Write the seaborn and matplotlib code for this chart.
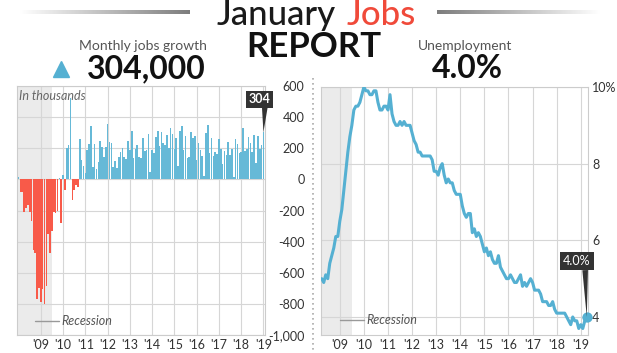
import numpy as np
import pandas as pd
import matplotlib
matplotlib.use("Agg")
import matplotlib.pyplot as plt
import seaborn as sns
from matplotlib.lines import Line2D
from matplotlib.colors import LinearSegmentedColormap

# ---------------- data ----------------
jobs_2008 = [17, -84, -78, -210, -185, -165, -209, -266, -452, -473, -769, -695]
jobs_2009 = [-791, -703, -800, -686, -351, -470, -329, -212, -219, -200, 7, -279]
jobs_2010 = [28, -69, 200, 220, 522, -133, -70, -34, -52, 257, 123, 88]
jobs_2011 = [42, 188, 225, 346, 77, 225, 69, 110, 248, 209, 141, 209]
jobs_2012 = [358, 237, 233, 78, 115, 76, 143, 177, 203, 146, 132, 244]
jobs_2013 = [190, 311, 135, 192, 218, 146, 140, 269, 185, 189, 291, 45]
jobs_2014 = [187, 168, 272, 310, 213, 306, 232, 218, 286, 200, 331, 292]
jobs_2015 = [195, 268, 84, 309, 345, 189, 276, 139, 145, 304, 263, 277]
jobs_2016 = [123, 233, 186, 147, 19, 299, 351, 167, 266, 151, 177, 161]
jobs_2017 = [259, 195, 100, 185, 155, 243, 155, 196, 14, 260, 230, 169]
jobs_2018 = [176, 330, 182, 196, 270, 235, 178, 282, 108, 277, 196, 222]
jobs_2019 = [304]

unemp_2008 = [5.0, 4.9, 5.1, 5.0, 5.4, 5.6, 5.8, 6.1, 6.1, 6.5, 6.8, 7.3]
unemp_2009 = [7.8, 8.3, 8.7, 9.0, 9.4, 9.5, 9.5, 9.6, 9.8, 10.0, 9.9, 9.9]
unemp_2010 = [9.8, 9.8, 9.9, 9.9, 9.6, 9.4, 9.4, 9.5, 9.5, 9.4, 9.8, 9.3]
unemp_2011 = [9.1, 9.0, 9.0, 9.1, 9.0, 9.1, 9.0, 9.0, 9.0, 8.8, 8.6, 8.5]
unemp_2012 = [8.3, 8.3, 8.2, 8.2, 8.2, 8.2, 8.2, 8.1, 7.8, 7.8, 7.7, 7.9]
unemp_2013 = [8.0, 7.7, 7.5, 7.6, 7.5, 7.5, 7.3, 7.2, 7.2, 7.2, 6.9, 6.7]
unemp_2014 = [6.6, 6.7, 6.7, 6.2, 6.3, 6.1, 6.2, 6.1, 5.9, 5.7, 5.8, 5.6]
unemp_2015 = [5.7, 5.5, 5.4, 5.4, 5.6, 5.3, 5.2, 5.1, 5.0, 5.0, 5.1, 5.0]
unemp_2016 = [4.9, 4.9, 5.0, 5.1, 4.8, 4.9, 4.8, 4.9, 5.0, 4.9, 4.7, 4.7]
unemp_2017 = [4.7, 4.6, 4.4, 4.4, 4.4, 4.3, 4.3, 4.4, 4.2, 4.1, 4.1, 4.1]
unemp_2018 = [4.1, 4.1, 4.0, 3.9, 3.8, 4.0, 3.9, 3.9, 3.7, 3.8, 3.7, 3.9]
unemp_2019 = [4.0]

start_year = 2008
tick_years = [2009, 2010, 2011, 2012, 2013, 2014, 2015, 2016, 2017, 2018, 2019]
year_labels = ["'09", "'10", "'11", "'12", "'13", "'14", "'15", "'16", "'17", "'18", "'19"]
jobs_yticks = [600, 400, 200, 0, -200, -400, -600, -800, -1000]
jobs_ylabels = ["600", "400", "200", "0", "-200", "-400", "-600", "-800", "-1,000"]
unemp_yticks = [10, 8, 6, 4]
unemp_ylabels = ["10%", "8", "6", "4"]
recession_end = 2009.5

jobs = (jobs_2008 + jobs_2009 + jobs_2010 + jobs_2011 + jobs_2012 + jobs_2013 +
        jobs_2014 + jobs_2015 + jobs_2016 + jobs_2017 + jobs_2018 + jobs_2019)
unemp = (unemp_2008 + unemp_2009 + unemp_2010 + unemp_2011 + unemp_2012 + unemp_2013 +
         unemp_2014 + unemp_2015 + unemp_2016 + unemp_2017 + unemp_2018 + unemp_2019)

t_jobs = np.round(start_year + np.arange(len(jobs)) / 12.0, 6)
t_unemp = start_year + np.arange(len(unemp)) / 12.0
df_jobs = pd.DataFrame({"t": t_jobs, "jobs": jobs,
                        "sign": np.where(np.array(jobs) >= 0, "pos", "neg")})
df_unemp = pd.DataFrame({"t": t_unemp, "rate": unemp})

# ---------------- style ----------------
sns.set_theme(style="white")
plt.rcParams["font.family"] = ["Lato", "DejaVu Sans"]

BLUE = "#55b0d2"
BAR_BLUE = "#66b9d7"
RED = "#f85a49"
GRID = "#d6d6d6"
SHADE = "#ebebeb"
TXT = "#333333"

W, H = 617, 353
fig = plt.figure(figsize=(W / 100, H / 100), dpi=100)
fig.patch.set_facecolor("white")


def fx(px):
    return px / W


def fy(py):
    return 1 - py / H


# ---------------- header ----------------
def grad_bar(x0, x1, yc, th, reverse=False):
    axg = fig.add_axes([fx(x0), fy(yc + th / 2), fx(x1 - x0), th / H])
    cmap = LinearSegmentedColormap.from_list("g", ["#ffffff", "#7d7d7d"])
    g = np.linspace(0, 1, 256)[None, :]
    if reverse:
        g = g[:, ::-1]
    axg.imshow(g, cmap=cmap, aspect="auto")
    axg.axis("off")


grad_bar(20, 190, 12, 4)
grad_bar(437, 600, 12, 4, reverse=True)

fig.text(fx(336), fy(25), "January", ha="right", va="baseline", fontsize=25,
         fontweight="medium", color="#1a1a1a")
fig.text(fx(347), fy(25), "Jobs", ha="left", va="baseline", fontsize=25,
         fontweight="medium", color="#f04a3a")
fig.text(fx(314), fy(57), "REPORT", ha="center", va="baseline", fontsize=25,
         fontweight="bold", color="#111111")

fig.text(fx(143), fy(50), "Monthly jobs growth", ha="center", va="baseline", fontsize=10, color="#555555")
fig.text(fx(146), fy(78), "304,000", ha="center", va="baseline", fontsize=23,
         fontweight="bold", color="#111111")
fig.add_artist(Line2D([fx(60.5)], [fy(69)], marker="^", ms=11, color=BLUE, lw=0,
                      transform=fig.transFigure))
fig.text(fx(465), fy(50), "Unemployment", ha="center", va="baseline", fontsize=10, color="#555555")
fig.text(fx(467), fy(78), "4.0%", ha="center", va="baseline", fontsize=23,
         fontweight="bold", color="#111111")

# separator
fig.add_artist(Line2D([fx(313), fx(313)], [fy(78), 0], color="#aaaaaa", lw=1.2,
                      ls=(0, (1, 2)), transform=fig.transFigure))

# ---------------- left chart: monthly jobs ----------------
ax1 = fig.add_axes([fx(17), fy(335), fx(265 - 17), (335 - 86) / H])
x1_left, x1_right = 2007.93, 2019.07
ax1.axvspan(x1_left, recession_end, color=SHADE, zorder=0, lw=0)
sns.barplot(data=df_jobs, x="t", y="jobs", hue="sign",
            palette={"pos": BAR_BLUE, "neg": RED}, native_scale=True, dodge=False,
            width=0.88, errorbar=None, legend=False, saturation=1,
            linewidth=0, ax=ax1, zorder=2)
ax1.set_xlim(x1_left, x1_right)
ax1.set_ylim(-1000, 600)
ax1.set_xticks(tick_years, year_labels)
ax1.yaxis.tick_right()
ax1.set_yticks(jobs_yticks, jobs_ylabels)
for lbl in ax1.get_yticklabels():
    lbl.set_horizontalalignment("right")
ax1.tick_params(axis="y", length=0, pad=28.5, labelsize=9, labelcolor=TXT)
ax1.tick_params(axis="x", length=0, pad=3, labelsize=9, labelcolor=TXT)
ax1.grid(True, color=GRID, lw=0.8, zorder=1)
ax1.set_axisbelow(True)
ax1.set_xlabel("")
ax1.set_ylabel("")
for s in ax1.spines.values():
    s.set_color("#cccccc")
    s.set_linewidth(0.8)
ax1.text(0.01, 0.985, "In thousands", transform=ax1.transAxes, ha="left", va="top",
         fontsize=9, style="italic", color="#666666")
ax1.annotate("304", xy=(t_jobs[-1], jobs[-1]), xytext=(-4, 33), textcoords="offset pixels",
             ha="center", va="center", fontsize=9, fontweight="bold", color="white",
             bbox=dict(boxstyle="square,pad=0.2", fc="#333333", ec="none"),
             arrowprops=dict(arrowstyle="wedge,tail_width=0.45", fc="#333333", ec="none",
                             relpos=(0.75, 0.0), shrinkA=0, shrinkB=0),
             annotation_clip=False, zorder=5)
ax1.legend(handles=[Line2D([], [], color="#999999", lw=1)], labels=["Recession"],
           loc="center left", bbox_to_anchor=(0.072, 0.056), frameon=False,
           prop={"style": "italic", "size": 9}, labelcolor="#555555",
           handlelength=1.9, handletextpad=0.25, borderpad=0, borderaxespad=0)

# ---------------- right chart: unemployment ----------------
ax2 = fig.add_axes([fx(321), fy(335), fx(588 - 321), (335 - 87) / H])
tick_shift = 0.25
x2_left, x2_right = 2007.97, 2019.05
ax2.axvspan(x2_left, recession_end - tick_shift, color=SHADE, zorder=0, lw=0)
sns.lineplot(data=df_unemp, x="t", y="rate", color=BLUE, lw=2.2, ax=ax2, zorder=3)
sns.scatterplot(x=[t_unemp[-1]], y=[unemp[-1]], color=BLUE, s=55, ax=ax2,
                zorder=4, clip_on=False, linewidth=0)
ax2.set_xlim(x2_left, x2_right)
ax2.set_ylim(3.53, 10.0)
ax2.set_xticks([y - tick_shift for y in tick_years], year_labels)
ax2.yaxis.tick_right()
ax2.set_yticks(unemp_yticks, unemp_ylabels)
ax2.tick_params(axis="y", length=0, pad=3, labelsize=9, labelcolor=TXT)
ax2.tick_params(axis="x", length=0, pad=3, labelsize=9, labelcolor=TXT)
ax2.grid(True, color=GRID, lw=0.8, zorder=1)
ax2.set_axisbelow(True)
ax2.set_xlabel("")
ax2.set_ylabel("")
for s in ax2.spines.values():
    s.set_color("#cccccc")
    s.set_linewidth(0.8)
ax2.annotate("4.0%", xy=(t_unemp[-1], unemp[-1]), xytext=(-10, 56), textcoords="offset pixels",
             ha="center", va="center", fontsize=9, color="white",
             bbox=dict(boxstyle="square,pad=0.25", fc="#333333", ec="none"),
             arrowprops=dict(arrowstyle="wedge,tail_width=0.45", fc="#333333", ec="none",
                             relpos=(0.8, 0.0), shrinkA=0, shrinkB=0),
             annotation_clip=False, zorder=5)
ax2.legend(handles=[Line2D([], [], color="#999999", lw=1)], labels=["Recession"],
           loc="center left", bbox_to_anchor=(0.071, 0.06), frameon=False,
           prop={"style": "italic", "size": 9}, labelcolor="#555555",
           handlelength=1.9, handletextpad=0.25, borderpad=0, borderaxespad=0)

fig.savefig("out.png", dpi=100)
